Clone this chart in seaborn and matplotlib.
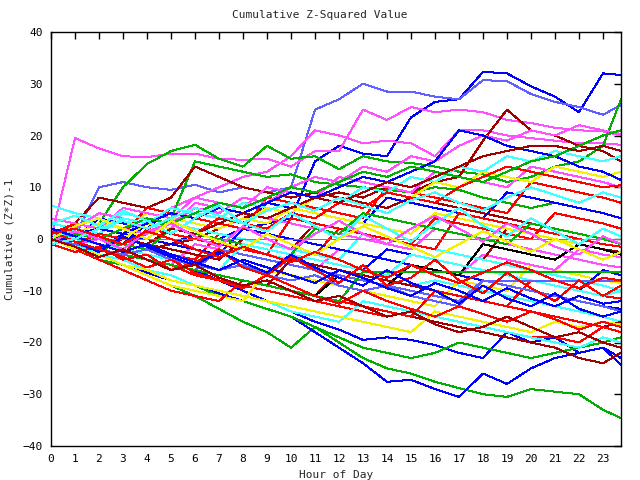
import matplotlib
matplotlib.use("Agg")
import matplotlib.pyplot as plt
import seaborn as sns
import pandas as pd

# hours of the day (x axis)
hours = [0, 1, 2, 3, 4, 5, 6, 7, 8, 9, 10, 11, 12, 13, 14, 15, 16, 17, 18, 19, 20, 21, 22, 23, 23.75]

# cumulative (Z*Z)-1 series at each hour
s01 = [0, -1, -2, -3, -2, -1, 1, 0, 2, 3, 4, 15, 18, 16.5, 16, 23.5, 26.5, 27, 32.3, 32, 29.5, 27.5, 24.5, 32, 31.7]
s02 = [1, 0.5, 10, 11, 10, 9.5, 10.5, 9, 10, 9, 10, 25, 27, 30, 28.5, 28.5, 27.5, 27, 30.7, 30.5, 28, 26.5, 25.5, 24, 25.9]
s03 = [0, 19.5, 17.5, 16, 15.8, 16.5, 16.5, 15.5, 15.3, 15.5, 14, 17, 17, 25, 23, 25.5, 24.5, 25, 24.5, 23, 22.4, 21.5, 21, 20.8, 20]
s04 = [2, 1, 0, 2, 3, 6, 8, 10, 12, 13, 16, 21, 20, 18.5, 19, 18.5, 16, 21, 21, 20, 19.5, 19, 18.5, 18.5, 18.2]
s05 = [0, 1, 3, 10, 14.5, 17, 18.2, 15.5, 14, 18, 15.5, 16, 13.5, 16, 15, 14.7, 14, 13, 12.5, 11, 12, 14, 15, 18, 27]
s06 = [0, -1, -2, -1, 1, 4, 15, 14, 13, 12, 12.5, 11, 10.5, 10, 9.5, 9, 10, 9.5, 8, 7, 6, 7, 6, 5, 4]
s07 = [0, -2, -4, -5, -7, -9, -11, -13.5, -16, -18, -21, -17, -20, -23, -25, -26, -27.6, -28.8, -30, -30.5, -29, -29.5, -30, -33, -34.6]
s08 = [0, -1.5, -3, -5, -6.5, -8, -9, -10.5, -12, -13.5, -15, -18, -21, -24, -27.6, -27.2, -29, -30.5, -26, -28, -25, -23, -22, -21, -24.3]
s09 = [0, -1, -2, -3, -4, -5, -6, -8, -10, -12, -14, -16, -17.5, -19.5, -19, -19.5, -20.5, -22, -23, -18, -20, -19, -22, -21, -23]
s10 = [0, -1, -3, -4, -6, -8, -9, -11, -12, -13.5, -15, -17, -19, -21, -22, -23, -22, -20, -21, -22, -23, -22, -21, -20, -19]
s11 = [1, 0, -1, -2, -4, -5, -7, -8, -9, -10, -11, -12, -13, -14, -15, -14, -15, -16, -17, -18, -19, -19, -20, -17, -18]
s12 = [0, -1, -2, -3, -4, -5, -6, -7, -8, -9, -10, -11, -12, -13, -14, -15, -16, -17, -18, -19, -20, -21, -23, -24, -22]
s13 = [0, 1, 0, -1, -2, -1, 0, 2, 4, 6, 5, 8, 9, 8, 10, 9, 11, 12, 19, 25, 21, 20, 18, 17, 15]
s14 = [0, 3, 8, 7, 6, 8, 14, 12, 10, 9, 8, 9, 8, 7, 6, 8, 7, 6, 5, 4, 3, 2, 1, 0, -1]
s15 = [2, 1, 0, -1, -2, -3, -4, 1, 0, -1, -2, -3, 2, 1, 0, -1, 4, 3, 2, 1, 0, 5, 4, 3, 2]
s16 = [6.5, 5, 4, 3, 2, 1, 0, -1, -2, -3, -4, -5, -6, -7, -8, -9, -8, -9, -10, -11, -12, -13, -14, -15, -16]
s17 = [0, -1, -3, -5, -7, -9, -10, -11, -12, -6, -7, -8, -9, -10, -11, -12, -13, -8, -9, -10, -5, -6, -7, -8, -8.5]
s18 = [0, -1, -2, -3, -4, -5, -1, -2, -3, -4, -5, -6, -2, -3, -4, -5, -6, -7, -3, -4, -5, -6, -2, -3, -3.5]
s19 = [1, 0, 4, 3, 2, 6, 5, 4, 3, 7, 6, 5, 4, 3, 8, 7, 6, 5, 4, 9, 8, 7, 6, 5, 4]
s20 = [0, 2, 1, 0, -1, -2, -3, -4, 0, -1, -2, 3, 2, 1, 0, -1, -2, -3, -4, 2, 1, 0, -1, -2, -2.5]
s21 = [0, -1, -2, -3, -4, -5, -6, -7, -8, -9, -10, -11, -6, -7, -8, -9, -10, -11, -12, -13, -14, -15, -16, -17, -18]
s22 = [3, 2, 1, 5, 4, 3, 2, 1, 0, -1, -2, -3, -4, 1, 0, -1, -2, -3, -4, -5, -6, -7, -8, -9, -10]
s23 = [0, -2, -4, -6, -8, -10, -11, -12, -8, -9, -10, -11, -6, -7, -8, -9, -10, -11, -12, -13, -8, -9, -10, -11, -11.5]
s24 = [2, 1, 3, 2, 5, 4, 3, 2, 4, 3, 6, 5, 4, 3, 2, 1, 5, 4, 3, 2, 1, 0, -1, -2, -3]
s25 = [0, -1, -2, 1, 0, -1, -2, -3, 2, 1, 0, -1, -2, -3, -4, -5, -6, -7, -8, -9, -10, -11, -12, -13, -13.5]
s26 = [0, 2, 5, 4, 3, 2, 7, 6, 5, 4, 3, 2, 1, 0, -1, -2, 2, 1, 0, -1, -2, -3, -4, -5, -5.5]
s27 = [0, -1, -2, -3, 2, 1, 0, -1, -2, -3, 4, 3, 2, 1, 0, -1, -2, 5, 4, 3, 2, 1, 0, -1, -1.5]
s28 = [0, -1, -3, -4, -6, -7, -9, -10, -11, -12, -14, -15, -16, -12, -13, -14, -15, -16, -17, -18, -19, -20, -21, -19, -20]
s29 = [0, -1, -2, -3, -4, -5, -6, -7, -8, -9, -10, -11, -7, -8, -9, -5, -6, -7, -1, -2, -3, -4, -1, -2, -3]
s30 = [0, -1, -2, -3, -4, -5, -6, -2, -3, -4, -5, -6, -7, -8, -9, -10, -11, -12, -8, -9, -10, -11, -12, -13, -14]
s31 = [1, 3, 2, 1, 6, 5, 4, 3, 2, 8, 7, 6, 5, 4, 10, 9, 8, 7, 6, 5, 11, 10, 9, 8, 7]
s32 = [0, -1, -2, -3, -4, -5, -6, -7, -8, -9, -4, -5, -6, -7, -8, -9, -10, -11, -12, -13, -14, -15, -16, -17, -16]
s33 = [0, -2, -3, -5, -6, -8, -9, -10, -11, -12, -13, -14, -15, -16, -17, -18, -14, -15, -16, -17, -18, -16, -17, -16, -16.5]
s34 = [2, 1, 0, -1, 3, 2, 1, 0, -1, -2, -3, -4, -5, -6, -2, -3, -4, -5, -6, -7, -8, -9, -10, -6, -7]
s35 = [0, 1, 0, -1, -2, 2, 1, 0, -1, -2, -3, 2, 1, 5, 4, 3, 2, 1, 0, -1, 3, 2, 1, 0, -1]
s36 = [4, 3, 2, 6, 5, 4, 8, 7, 6, 10, 9, 8, 12, 11, 10, 9, 13, 12, 11, 10, 14, 13, 12, 11, 10]
s37 = [1, 0, -1, -2, -3, -4, -5, -6, -1, -2, -3, -4, -5, -6, -7, -3, -4, -5, -6, -7, -8, -9, -10, -11, -10]
s38 = [0, -1, -2, -3, -4, -5, -6, -7, -8, -9, -10, -11, -12, -13, -14, -15, -10, -11, -12, -13, -14, -15, -16, -17, -18]
s39 = [0, -1, 0, 2, 1, 3, 6, 5, 8, 7, 10, 12, 11, 14, 13, 16, 15, 18, 20, 19, 21, 20, 22, 21, 20.3]
s40 = [0, 2, 1, 4, 3, 6, 5, 4, 7, 6, 5, 8, 7, 10, 9, 12, 11, 14, 13, 16, 15, 17, 16, 15, 16]
s41 = [0, -1, 1, 0, 3, 2, 1, 4, 3, 6, 5, 8, 7, 6, 9, 8, 11, 10, 13, 12, 11, 14, 13, 12, 13]
s42 = [0, 1, 2, 1, 3, 5, 4, 6, 5, 7, 9, 8, 10, 12, 11, 13, 15, 21, 20, 18, 17, 16, 14, 13, 11.4]
s43 = [0, -1, 1, 0, -1, 2, 1, 4, 3, 2, 5, 4, 7, 6, 9, 8, 7, 10, 12, 14, 13, 12, 11, 10, 10.4]
s44 = [0, 1, 0, 2, 4, 3, 5, 7, 6, 8, 10, 9, 11, 13, 12, 14, 13, 12, 11, 13, 15, 16, 18, 20, 21]
s45 = [0, -1, -2, 0, -1, 2, 1, 3, 5, 4, 6, 8, 7, 9, 11, 10, 12, 14, 16, 17, 18, 18, 17, 18, 17]
s46 = [0, 0, 0, 0, 0, 0, 0, 0, 0, 0, 0, 0, 0, 0, 0, 0, 0, 0, 0, 0, 0, 0, 0, 0, 0]
s47 = [0, -1, -2, -3, -4, -5, -6, -7, -8, -9, -10, -11, -12, -6.4, -6.4, -6.4, -6.4, -6.4, -6.4, -6.4, -6.4, -6.4, -6.4, -6.4, -6.4]
s48 = [0, -1, -2, -3, -2, -4, -5, -6, -5, -7, -8, -7, -9, -10, -9, -11, -12, -13, -8.1, -8.1, -8.1, -8.1, -8.1, -8.1, -8.1]
s49 = [-1, -2.5, -1.5, -4, -3, -6, -4.5, -2, -5.5, -7, -3.5, -6, -8.5, -5, -9, -7.5, -4, -8, -10.5, -6.5, -9.5, -12, -8, -11, -9]
s50 = [3, 4.5, 2.5, 5.5, 3.5, 1, 4, 6.5, 3, 1.5, 5, 2.5, 0, 4.5, 2, -0.5, 3, 6, 2.5, 0.5, 4, 1.5, -1, 2, 0.5]
s51 = [0.5, -0.5, -2.5, 0.5, -1.5, -3.5, -5, -2.5, -4.5, -6.5, -3, -5.5, -7.5, -9, -6, -8.5, -10, -12.5, -9, -11.5, -13, -10.5, -13.5, -15, -14]
s52 = [-0.5, 1.5, 0, -2, 1.5, 3, 0.5, -1.5, 2.5, 0, -2, 1, 3.5, 1, -1, 2, 4.5, 2, -0.5, 3, 1, -1.5, -3, 0.5, -1]
s53 = [1.5, -0.5, -2, -3.5, -5.5, -4, -6.5, -8, -9.5, -7, -9, -11, -12.5, -10, -12, -13.5, -15, -13, -14.5, -16, -14, -15.5, -17.5, -16, -17]
s54 = [0, 2.5, 4, 2, 0, 3.5, 1.5, -0.5, -2, 1, -1, -3, 0, 2.5, 0.5, -1.5, -3.5, -1, 1.5, -0.5, -2.5, 0, -2, -4, -2.5]
s55 = [2, 0.5, -1, -2.5, -1, -3, -4.5, -6, -4, -5.5, -7, -8.5, -6, -7.5, -9.5, -11, -8.5, -10, -12, -9.5, -11.5, -13, -11, -12.5, -12]
s56 = [-1, 0, 2, 3.5, 2, 4, 6, 4.5, 3, 5.5, 7, 5.5, 8, 6.5, 5, 7.5, 9, 7, 5.5, 8, 10, 8.5, 7, 9, 8]
s57 = [0, -1.5, -3.5, -2, -4, -6, -5, -7.5, -9, -8, -10, -12, -11, -13, -15, -14, -16.5, -18, -17, -15, -17, -19, -18, -20, -21]
s58 = [1, 2, 0.5, -1, 1.5, 0, -2, -3.5, -1.5, -3, -4.5, -2.5, -4, -6, -7.5, -5, -7, -8.5, -6.5, -4.5, -6, -8, -9.5, -7.5, -8]

series = [s01, s02, s03, s04, s05, s06, s07, s08, s09, s10, s11, s12, s13, s14, s15, s16,
          s17, s18, s19, s20, s21, s22, s23, s24, s25, s26, s27, s28, s29, s30, s31, s32,
          s33, s34, s35, s36, s37, s38, s39, s40, s41, s42, s43, s44, s45, s46, s47, s48,
          s49, s50, s51, s52, s53, s54, s55, s56, s57, s58]

RED, GRN, BLU, MAG, CYN, DRD, YEL, BLK, LBL, PUR = ("#ff0000", "#00b000", "#0000ff", "#ff50ff", "#40ffff",
                                                    "#a00000", "#f0f000", "#000000", "#6060ff", "#8060ff")
colors = [BLU, LBL, MAG, MAG, GRN, GRN, GRN, BLU, BLU, GRN, RED, DRD, DRD, DRD, RED, CYN,
          YEL, MAG, BLU, DRD, GRN, CYN, RED, YEL, BLU, MAG, RED, CYN, BLK, LBL, RED, DRD,
          YEL, BLU, GRN, MAG, CYN, RED, MAG, CYN, YEL, BLU, RED, GRN, DRD, PUR, GRN, LBL,
          RED, CYN, BLU, MAG, RED, YEL, BLU, CYN, DRD, RED]

names = [f"s{i+1:02d}" for i in range(len(series))]
df = pd.DataFrame({
    "hour": hours * len(series),
    "value": [v for s in series for v in s],
    "run": [n for n in names for _ in hours],
})

sns.set_style("white")
plt.rcParams["font.family"] = ["DejaVu Sans Mono"]

fig = plt.figure(figsize=(6.4, 4.8), dpi=100)
ax = fig.add_axes([51 / 640, 1 - 446 / 480, (621 - 51) / 640, (446 - 32) / 480])

sns.lineplot(data=df, x="hour", y="value", hue="run", palette=dict(zip(names, colors)),
             hue_order=names, legend=False, linewidth=0.72, ax=ax, estimator=None, sort=False)
for ln in ax.get_lines():
    ln.set_antialiased(False)
    ln.set_linewidth(0.72)

ax.set_xlim(0, 23.75)
ax.set_ylim(-40, 40)
ax.set_xticks(range(0, 24))
ax.set_yticks(range(-40, 41, 10))
ax.tick_params(direction="in", length=5, width=1, top=True, right=True,
               labelsize=8, colors="black", pad=6)
for sp in ax.spines.values():
    sp.set_color("black")
    sp.set_linewidth(1.0)
ax.set_xlabel("Hour of Day", fontsize=8, labelpad=4)
ax.set_ylabel("Cumulative (Z*Z)-1", fontsize=8, labelpad=6)
fig.text(0.5, 1 - 15 / 480, "Cumulative Z-Squared Value", ha="center", va="center", fontsize=8)

fig.savefig("out.png", dpi=100)
